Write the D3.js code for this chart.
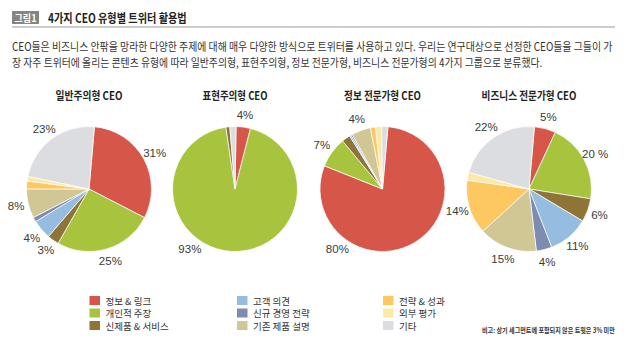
<!DOCTYPE html>
<html><head><meta charset="utf-8">
<script src="https://cdn.jsdelivr.net/npm/d3@7/dist/d3.min.js"></script>
<style>body{margin:0;background:#fff}svg{display:block}</style>
</head><body>
<svg id="c" width="640" height="342"></svg>
<script>
// ---- data ----
const categories = ["정보 & 링크","개인적 주장","신제품 & 서비스","고객 의견","신규 경영 전략","기존 제품 설명","전략 & 성과","외부 평가","기타"];
const categoryColors = ["#d6574a","#a8c43e","#8e7436","#95bddf","#7d8cb0","#d0c795","#fdc862","#fee8a6","#dcdde0"];
const pieTitles = ["일반주의형 CEO","표현주의형 CEO","정보 전문가형 CEO","비즈니스 전문가형 CEO"];
const generalistValues = [31, 25.5, 3, 5, 1.2, 7.5, 2, 1.2, 23];
const expressiveValues = [3.7, 93.3, 1, 0, 0, 0, 0, 0, 1.6];
const informationValues = [79.5, 7.9, 2.2, 0.4, 0.4, 4.9, 1.3, 1.6, 1.6];
const businessValues = [5.5, 20.5, 6, 10.5, 4, 15, 14, 2, 22];
const generalistLabels = ["31%","25%","3%","4%",null,"8%",null,null,"23%"];
const expressiveLabels = ["4%","93%",null,null,null,null,null,null,null];
const informationLabels = ["80%","7%",null,null,null,"4%",null,null,null];
const businessLabels = ["5%","20 %","6%","11%","4%","15%","14%",null,"22%"];
const titleText = "4가지 CEO 유형별 트위터 활용법";
const figureTag = "그림1";
const bodyLines = [
  "CEO들은 비즈니스 안팎을 망라한 다양한 주제에 대해 매우 다양한 방식으로 트위터를 사용하고 있다. 우리는 연구대상으로 선정한 CEO들을 그들이 가",
  "장 자주 트위터에 올리는 콘텐츠 유형에 따라 일반주의형, 표현주의형, 정보 전문가형, 비즈니스 전문가형의 4가지 그룹으로 분류했다."
];
const noteText = "비고: 상기 세그먼트에 포함되지 않은 트윗은 3% 미만";

// ---- drawing ----
const svg = d3.select("#c");
const KR = "'Noto Sans CJK KR','Noto Sans',sans-serif";
const LAT = "'Liberation Sans',Arial,sans-serif";

// place text at (x,y) and squeeze it horizontally to a target width
function fitText(parent, x, y, str, width, attrs) {
  const t = parent.append("text").attr("x",0).attr("y",0).attr("dominant-baseline","central");
  Object.entries(attrs).forEach(([k,v])=>t.attr(k,v));
  t.text(str);
  const w = t.node().getComputedTextLength();
  const sx = w > 0 ? Math.min(1, width / w) : 1;
  t.attr("transform",`translate(${x},${y}) scale(${sx},1)`);
  return t;
}

// header
svg.append("rect").attr("x",12).attr("y",11).attr("width",27).attr("height",13).attr("fill","#858585");
fitText(svg, 25.5, 17.8, figureTag, 22, {"text-anchor":"middle","font-family":KR,"font-weight":"bold","font-size":10,"fill":"#fff"});
fitText(svg, 48, 17.8, titleText, 139, {"font-family":KR,"font-weight":"bold","font-size":12.5,"fill":"#222"});
svg.append("line").attr("x1",12).attr("x2",615).attr("y1",27).attr("y2",27).attr("stroke","#bdbdbd").attr("stroke-width",1.5);

// body text
const bodyWidths = [601, 531];
bodyLines.forEach((t,i)=>{
  fitText(svg, 12, 46.5+i*15.5, t, bodyWidths[i], {"font-family":KR,"font-size":11.5,"fill":"#333"});
});

// pies
const pies = [
  {values: generalistValues, labels: generalistLabels, cx: 89, start: 5, tw: 67},
  {values: expressiveValues, labels: expressiveLabels, cx: 235, start: 1, tw: 65},
  {values: informationValues, labels: informationLabels, cx: 382.5, start: 5, tw: 77},
  {values: businessValues, labels: businessLabels, cx: 529, start: 5, tw: 95}
];
const cy = 189, R = 62.5, labelR = 75;
const color = d3.scaleOrdinal().domain(categories).range(categoryColors);
const arc = d3.arc().innerRadius(0).outerRadius(R);

pies.forEach((p,pi)=>{
  const g = svg.append("g").attr("transform",`translate(${p.cx},${cy})`);
  const s = p.start*Math.PI/180;
  const pie = d3.pie().sort(null).value(d=>d.v).startAngle(s).endAngle(s+2*Math.PI);
  const data = categories.map((c,i)=>({c, v:p.values[i], l:p.labels[i]}));
  const arcs = pie(data);
  g.selectAll("path").data(arcs.filter(a=>a.data.v>0)).join("path")
    .attr("d",arc).attr("fill",d=>color(d.data.c)).attr("stroke","#fff").attr("stroke-width",0.7);
  g.selectAll("text.pl").data(arcs.filter(a=>a.data.l)).join("text").attr("class","pl")
    .attr("transform",d=>{
      let a = (d.startAngle+d.endAngle)/2;
      if (d.endAngle-d.startAngle > Math.PI) a = 217*Math.PI/180;
      return `translate(${labelR*Math.sin(a)},${-labelR*Math.cos(a)})`;
    })
    .attr("text-anchor","middle").attr("dominant-baseline","central")
    .attr("font-family",LAT).attr("font-size",11.5).attr("fill","#3a3a3a").text(d=>d.data.l);
  fitText(svg, p.cx, 95.5, pieTitles[pi], p.tw, {"text-anchor":"middle","font-family":KR,"font-weight":"bold","font-size":11,"fill":"#222"});
});

// legend (column-major, 3 per column)
const colX = [89.5, 237, 383], rowY = [296, 308.5, 321];
const lg = svg.append("g");
categories.forEach((c,i)=>{
  const x = colX[Math.floor(i/3)], y = rowY[i%3];
  lg.append("rect").attr("x",x).attr("y",y).attr("width",10.5).attr("height",9).attr("fill",color(c));
  lg.append("text").attr("x",x+16).attr("y",y+4.7).attr("dominant-baseline","central")
    .attr("font-family",KR).attr("font-size",9.5).attr("fill","#333").text(c);
});

// note
fitText(svg, 482, 330, noteText, 133, {"font-family":KR,"font-weight":"bold","font-size":7,"fill":"#333"});
</script>
</body></html>
